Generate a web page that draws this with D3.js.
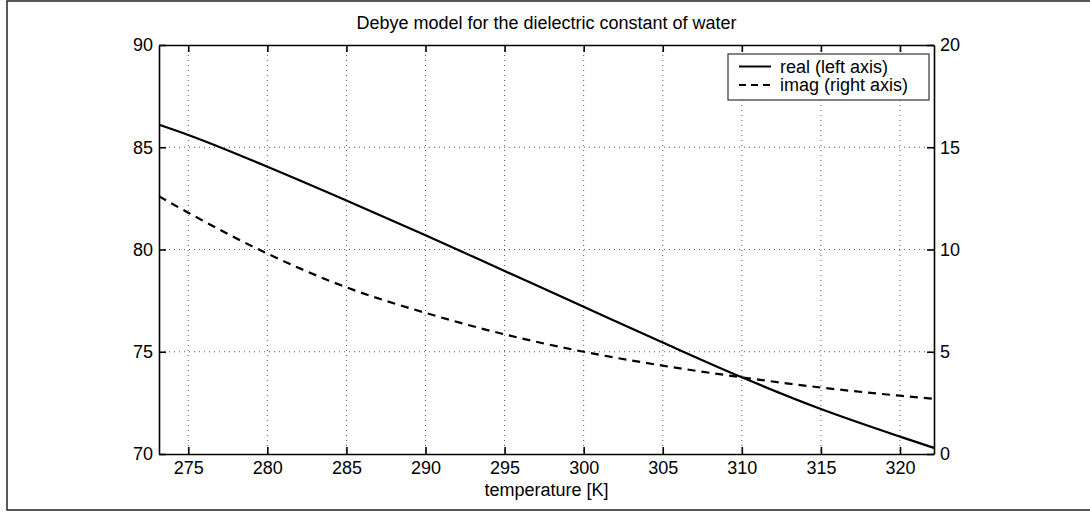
<!DOCTYPE html>
<html>
<head>
<meta charset="utf-8">
<script src="https://cdn.jsdelivr.net/npm/d3@7"></script>
<style>
  html, body { margin: 0; padding: 0; background: #fff; }
  svg { display: block; }
  text { font-family: "Liberation Sans", Arial, Helvetica, sans-serif; fill: #000; }
</style>
</head>
<body>
<svg id="chart" width="1090" height="512"></svg>
<script>
// ---- data ----
const temperature = [273.15, 275, 280, 285, 290, 295, 300, 305, 310, 315, 320, 322.15];
const realPart    = [86.1, 85.6, 84.05, 82.4, 80.7, 78.95, 77.2, 75.45, 73.75, 72.2, 70.85, 70.3];
const imagPart    = [12.6, 11.8, 9.8, 8.15, 6.9, 5.85, 5.0, 4.32, 3.75, 3.25, 2.85, 2.7];
const xTicks = [275, 280, 285, 290, 295, 300, 305, 310, 315, 320];
const yLeftTicks = [70, 75, 80, 85, 90];
const yRightTicks = [0, 5, 10, 15, 20];
const titleText = "Debye model for the dielectric constant of water";
const xLabelText = "temperature [K]";
const legendLabels = ["real (left axis)", "imag (right axis)"];

// ---- layout ----
const plot = { left: 159, right: 934, top: 45, bottom: 454 };
const svg = d3.select("#chart");

// outer frame
svg.append("rect").attr("x", 7).attr("y", 1).attr("width", 1100).attr("height", 509)
  .attr("fill", "none").attr("stroke", "#222").attr("stroke-width", 1.5);

const x = d3.scaleLinear().domain([273.15, 322.15]).range([plot.left, plot.right]);
const yL = d3.scaleLinear().domain([70, 90]).range([plot.bottom, plot.top]);
const yR = d3.scaleLinear().domain([0, 20]).range([plot.bottom, plot.top]);

// grid
const grid = svg.append("g").attr("stroke", "#555").attr("stroke-width", 1).attr("stroke-dasharray", "1,4");
xTicks.forEach(t => grid.append("line").attr("x1", x(t)).attr("x2", x(t)).attr("y1", plot.top).attr("y2", plot.bottom));
yLeftTicks.slice(1, -1).forEach(t => grid.append("line").attr("x1", plot.left).attr("x2", plot.right).attr("y1", yL(t)).attr("y2", yL(t)));

// axes
const tickLen = 7;
const fontSize = "18px";
const axB = svg.append("g").attr("transform", `translate(0,${plot.bottom})`)
  .call(d3.axisBottom(x).tickValues(xTicks).tickSizeInner(-tickLen).tickSizeOuter(0).tickPadding(7).tickFormat(d3.format("d")));
const axT = svg.append("g").attr("transform", `translate(0,${plot.top})`)
  .call(d3.axisTop(x).tickValues(xTicks).tickSizeInner(-tickLen).tickSizeOuter(0).tickFormat(""));
const axL = svg.append("g").attr("transform", `translate(${plot.left},0)`)
  .call(d3.axisLeft(yL).tickValues(yLeftTicks).tickSizeInner(-tickLen).tickSizeOuter(0).tickPadding(6).tickFormat(d3.format("d")));
const axR = svg.append("g").attr("transform", `translate(${plot.right},0)`)
  .call(d3.axisRight(yR).tickValues(yRightTicks).tickSizeInner(-tickLen).tickSizeOuter(0).tickPadding(6).tickFormat(d3.format("d")));
[axB, axT, axL, axR].forEach(a => {
  a.selectAll("path").attr("stroke", "#000").attr("stroke-width", 1.6);
  a.selectAll("line").attr("stroke", "#000").attr("stroke-width", 1.6);
  a.selectAll("text").attr("font-size", fontSize).attr("font-family", "Liberation Sans, Arial, sans-serif").attr("fill", "#000");
});

// lines
const lineReal = d3.line().x((d, i) => x(temperature[i])).y(d => yL(d)).curve(d3.curveMonotoneX);
const lineImag = d3.line().x((d, i) => x(temperature[i])).y(d => yR(d)).curve(d3.curveMonotoneX);
svg.append("path").datum(realPart).attr("d", lineReal).attr("fill", "none").attr("stroke", "#000").attr("stroke-width", 2.2);
svg.append("path").datum(imagPart).attr("d", lineImag).attr("fill", "none").attr("stroke", "#000").attr("stroke-width", 2.2).attr("stroke-dasharray", "8,6");

// title & label
svg.append("text").attr("x", (plot.left + plot.right) / 2).attr("y", 29).attr("text-anchor", "middle")
  .attr("font-size", "18px").text(titleText);
svg.append("text").attr("x", (plot.left + plot.right) / 2).attr("y", 496).attr("text-anchor", "middle")
  .attr("font-size", "18px").text(xLabelText);

// legend
const lg = svg.append("g");
lg.append("rect").attr("x", 728).attr("y", 54).attr("width", 201).attr("height", 46)
  .attr("fill", "#fff").attr("stroke", "#333").attr("stroke-width", 1.2);
const rowsY = [66.5, 85];
lg.append("line").attr("x1", 739).attr("x2", 771).attr("y1", rowsY[0]).attr("y2", rowsY[0]).attr("stroke", "#000").attr("stroke-width", 2);
lg.append("line").attr("x1", 739).attr("x2", 771).attr("y1", rowsY[1]).attr("y2", rowsY[1]).attr("stroke", "#000").attr("stroke-width", 2).attr("stroke-dasharray", "7,5");
legendLabels.forEach((l, i) => lg.append("text").attr("x", 780).attr("y", rowsY[i]).attr("dy", "0.36em").attr("font-size", "18px").text(l));
</script>
</body>
</html>
